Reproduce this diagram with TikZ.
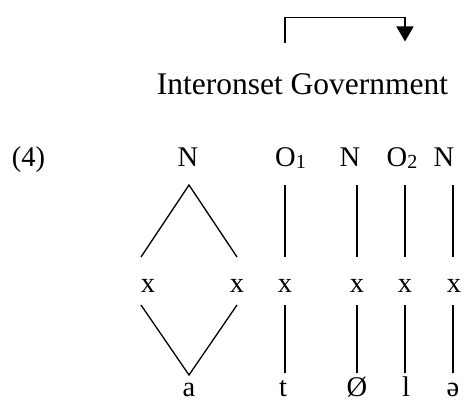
\documentclass[tikz,border=0pt]{standalone}
\usepackage{fontspec}
\setmainfont{Liberation Serif}
\usetikzlibrary{arrows.meta}
\tikzset{
  lab/.style={inner sep=0pt, anchor=base, font=\fontsize{28.5}{30}\selectfont},
  head/.style={inner sep=0pt, anchor=base, font=\fontsize{31.5}{33}\selectfont},
  assoc/.style={line width=1.3pt},
  gov/.style={line width=1.4pt, -{Triangle[width=17pt,length=15pt]}},
}
\newcommand{\subsc}[1]{\rlap{\raisebox{-2pt}{\fontsize{20}{20}\selectfont #1}}}
\begin{document}
\begin{tikzpicture}[x=1pt,y=-1pt]
\useasboundingbox (0,0) rectangle (464,403);
% heading and government arrow
\node[head] (title) at (302.5,95) {Interonset Government};
\coordinate (g1) at (285,43);
\coordinate (g2) at (285,17.5);
\coordinate (g3) at (405,17.5);
\coordinate (g4) at (405,41.5);
\draw[gov] (g1) -- (g2) -- (g3) -- (g4);
% example number
\node[lab] (ex) at (28.5,167) {(4)};
% top row
\node[lab] (n1) at (188,167) {N};
\node[lab] (o1) at (285.5,167) {O\subsc{1}};
\node[lab] (n2) at (350,167) {N};
\node[lab] (o2) at (397,167) {O\subsc{2}};
\node[lab] (n3) at (444,167) {N};
% skeleton
\node[lab] (x1) at (148,293) {x};
\node[lab] (x2) at (237,293) {x};
\node[lab] (x3) at (285,293) {x};
\node[lab] (x4) at (357,293) {x};
\node[lab] (x5) at (405,293) {x};
\node[lab] (x6) at (454,293) {x};
% melody
\node[lab] (sa) at (189,397) {a};
\node[lab] (st) at (283,397) {t};
\node[lab] (so) at (357,397) {Ø};
\node[lab] (sl) at (406,397) {l};
\node[lab] (ss) at (453,397) {ə};
% association line end points
\coordinate (n1b) at (189,185);
\coordinate (x1t) at (141,257);
\coordinate (x2t) at (237,257);
\coordinate (x1b) at (141,305);
\coordinate (x2b) at (237,305);
\coordinate (sat) at (189,375);
\foreach \c/\x in {o1/285, n2/357, o2/405, n3/453}{
  \coordinate (\c b) at (\x,185);
  \coordinate (\c x) at (\x,257);
}
\foreach \c/\x in {x3/285, x4/357, x5/405, x6/453}{
  \coordinate (\c b) at (\x,305);
  \coordinate (\c s) at (\x,373);
}
\draw[assoc] (x1t) -- (n1b) -- (x2t);
\draw[assoc] (x1b) -- (sat) -- (x2b);
\foreach \c in {o1,n2,o2,n3}{ \draw[assoc] (\c b) -- (\c x); }
\foreach \c in {x3,x4,x5,x6}{ \draw[assoc] (\c b) -- (\c s); }
\end{tikzpicture}
\end{document}
